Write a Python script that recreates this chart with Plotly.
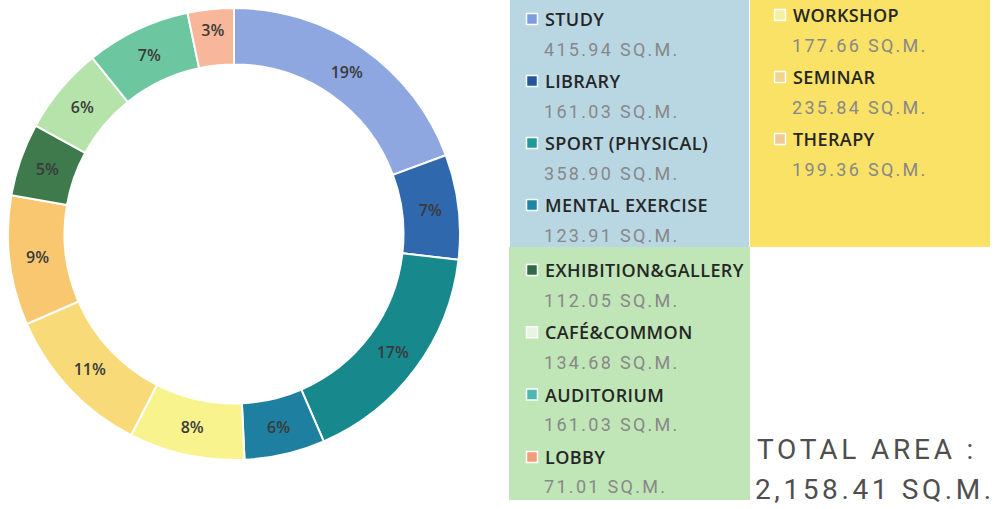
import plotly.graph_objects as go

# Floor area per function (sq.m.), in ring order starting at 12 o'clock
categories = ["STUDY", "LIBRARY", "SPORT (PHYSICAL)", "MENTAL EXERCISE",
              "WORKSHOP", "SEMINAR", "THERAPY",
              "EXHIBITION&GALLERY", "CAFÉ&COMMON", "AUDITORIUM", "LOBBY"]
areas = [415.94, 161.03, 358.90, 123.91,
         177.66, 235.84, 199.36,
         112.05, 134.68, 161.03, 71.01]
slice_colors = ["#8ea7e0", "#2f68ac", "#17898c", "#1f7fa0",
                "#f8f38c", "#f8db78", "#f8c76f",
                "#3f7a4d", "#b5e3aa", "#6cc7a1", "#f8b79a"]
swatch_colors = ["#7f9be0", "#24579a", "#229898", "#1d86a6",
                 "#f6eea0", "#f3d38c", "#f2c894",
                 "#2f6a45", "#e8f5e2", "#4fb7b3", "#f39c7c"]
total_label = "2,158.41 SQ.M."

# Legend groups: (indices, box colour, box extent, label x, first row y, row step)
groups = [
    ([0, 1, 2, 3], "#b9d7e3", (510, 749, 0, 247), 543, 19, 62),
    ([7, 8, 9, 10], "#c0e6b7", (509, 750, 247, 500), 543, 270, 62.3),
    ([4, 5, 6], "#f9e266", (750, 990, 0, 247), 791, 15, 62),
]

W, H = 1001, 509
cx, cy, r_out = 234, 234, 226

fig = go.Figure()

fig.add_trace(go.Pie(
    labels=categories,
    values=areas,
    sort=False,
    direction="clockwise",
    rotation=0,
    hole=0.75,
    marker=dict(colors=slice_colors, line=dict(color="white", width=2)),
    texttemplate="%{percent:.0%}",
    textposition="inside",
    insidetextorientation="horizontal",
    textfont=dict(family="Open Sans", size=16, color="#3a3a3a", weight=600),
    showlegend=False,
    hoverinfo="label+value+percent",
    domain=dict(x=[(cx - r_out) / W, (cx + r_out) / W],
                y=[(H - cy - r_out) / H, (H - cy + r_out) / H]),
))

shapes = []
annotations = []
for idx, box_color, (x0, x1, y0, y1), lx, y_first, step in groups:
    shapes.append(dict(type="rect", xref="x", yref="y", x0=x0, x1=x1, y0=y0, y1=y1,
                       fillcolor=box_color, line=dict(width=0), layer="below"))
    for k, i in enumerate(idx):
        y = y_first + k * step
        sx = lx - 11
        shapes.append(dict(type="rect", xref="x", yref="y",
                           x0=sx - 5.5, x1=sx + 5.5, y0=y - 5.5, y1=y + 5.5,
                           fillcolor=swatch_colors[i],
                           line=dict(color="white", width=1.5), layer="above"))
        annotations.append(dict(
            x=lx, y=y, xref="x", yref="y", xanchor="left", yanchor="middle",
            text=f'<span style="letter-spacing:0.4px">{categories[i]}</span>',
            showarrow=False,
            font=dict(family="Open Sans", size=18, color="#262626", weight=600)))
        annotations.append(dict(
            x=lx - 1, y=y + 30, xref="x", yref="y", xanchor="left", yanchor="middle",
            text=f'<span style="letter-spacing:2.3px">{areas[i]:.2f} SQ.M.</span>',
            showarrow=False,
            font=dict(family="Roboto", size=18, color="#888888")))

annotations.append(dict(
    x=755, y=449, xref="x", yref="y", xanchor="left", yanchor="middle",
    text='<span style="letter-spacing:3.8px">TOTAL AREA :</span>', showarrow=False,
    font=dict(family="Roboto", size=28, color="#4f4f4f")))
annotations.append(dict(
    x=753, y=489, xref="x", yref="y", xanchor="left", yanchor="middle",
    text=f'<span style="letter-spacing:3.6px">{total_label}</span>', showarrow=False,
    font=dict(family="Roboto", size=28, color="#4f4f4f")))

fig.update_layout(
    width=W, height=H,
    margin=dict(l=0, r=0, t=0, b=0),
    paper_bgcolor="white", plot_bgcolor="white",
    xaxis=dict(range=[0, W], visible=False, fixedrange=True),
    yaxis=dict(range=[H, 0], visible=False, fixedrange=True),
    shapes=shapes,
    annotations=annotations,
)

fig.write_html("out.html")
